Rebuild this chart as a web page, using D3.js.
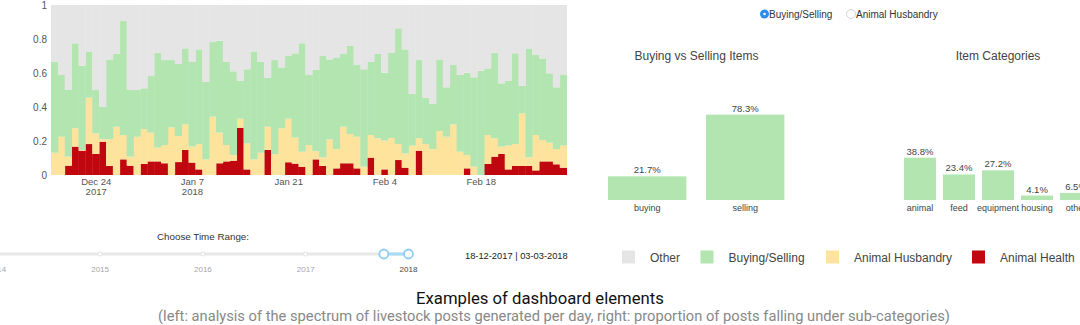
<!DOCTYPE html>
<html><head><meta charset="utf-8">
<script src="https://cdn.jsdelivr.net/npm/d3@7"></script>
<style>html,body{margin:0;padding:0;background:#fff;}svg{display:block;}</style>
</head><body>
<svg id="c" width="1080" height="325"></svg>
<script>
// ---- data ----
const startDay = "2017-12-18";
const endDay = "2018-03-03"; // exclusive
const animalHealth = [0,0,0.055,0.167,0.143,0.182,0.124,0.196,0.053,0,0.092,0.055,0,0.065,0.080,0.080,0.069,0,0.076,0.147,0.073,0.033,0,0,0.069,0.080,0.084,0.278,0.033,0,0,0.147,0,0,0.075,0.067,0.047,0,0.092,0.053,0,0.039,0.069,0.069,0.039,0,0.102,0,0.033,0,0.088,0.043,0,0.143,0,0,0,0,0,0,0.039,0,0,0.065,0.108,0.124,0.033,0.053,0.053,0.053,0.027,0.080,0.080,0.063,0.043];
const animalHusbandry = [0.131,0.225,0.053,0.108,0.004,0.273,0.121,0.014,0.157,0.284,0.143,0.053,0.225,0.205,0.169,0.081,0.107,0.280,0.153,0.151,0.094,0.149,0.092,0.343,0.180,0.096,0.034,0.053,0.153,0.092,0.131,0.137,0.122,0.275,0.256,0.153,0.090,0.176,0.048,0.051,0.210,0.114,0.215,0.172,0.186,0.049,0.133,0.216,0.169,0.218,0.094,0.084,0.173,0.073,0.182,0.153,0.259,0.225,0.298,0.137,0.079,0.049,0,0.170,0.108,0.043,0.140,0.129,0.310,0.051,0.208,0.126,0.110,0.090,0.130];
const buyingSelling = [0.536,0.363,0.392,0.500,0.496,0.272,0.255,0.190,0.470,0.428,0.671,0.392,0.275,0.240,0.333,0.559,0.500,0.396,0.424,0.447,0.498,0.557,0.455,0.439,0.541,0.489,0.492,0.224,0.436,0.635,0.534,0.289,0.554,0.358,0.369,0.496,0.638,0.412,0.478,0.596,0.470,0.539,0.428,0.518,0.422,0.573,0.432,0.496,0.400,0.502,0.681,0.612,0.303,0.460,0.273,0.265,0.421,0.291,0.349,0.451,0.484,0.526,0.614,0.392,0.504,0.372,0.380,0.534,0.161,0.641,0.471,0.480,0.408,0.363,0.415];
const other = [0.333,0.412,0.500,0.225,0.357,0.273,0.500,0.600,0.320,0.288,0.094,0.500,0.500,0.490,0.418,0.280,0.324,0.324,0.347,0.255,0.335,0.261,0.453,0.218,0.210,0.335,0.390,0.445,0.378,0.273,0.335,0.427,0.324,0.367,0.300,0.284,0.225,0.412,0.382,0.300,0.320,0.308,0.288,0.241,0.353,0.378,0.333,0.288,0.398,0.280,0.137,0.261,0.524,0.324,0.545,0.582,0.320,0.484,0.353,0.412,0.398,0.425,0.386,0.373,0.280,0.461,0.447,0.284,0.476,0.255,0.294,0.314,0.402,0.484,0.412];
const yTicks = [0,0.2,0.4,0.6,0.8,1];
const yTickLabels = ["0","0.2","0.4","0.6","0.8","1"];
const xTickDates = ["2017-12-24","2018-01-07","2018-01-21","2018-02-04","2018-02-18"];
const xTickLabels = [["Dec 24","2017"],["Jan 7","2018"],["Jan 21"],["Feb 4"],["Feb 18"]];
const seriesNames = ["Other","Buying/Selling","Animal Husbandry","Animal Health"];
const seriesColors = {"Other":"#e5e5e5","Buying/Selling":"#b3e5b0","Animal Husbandry":"#fde39c","Animal Health":"#c0070f"};

const bsCats = ["buying","selling"];
const bsVals = [21.7,78.3];
const itemCats = ["animal","feed","equipment","housing","other"];
const itemVals = [38.8,23.4,27.2,4.1,6.5];

const sliderYears = [2014,2015,2016,2017,2018];
const rangeText = "18-12-2017 | 03-03-2018";

// ---- build ----
const svg = d3.select("#c");
const parse = d3.utcParse("%Y-%m-%d");
const days = d3.utcDay.range(parse(startDay), parse(endDay));
const rows = days.map((d,i)=>({date:d,
  "Animal Health":animalHealth[i],"Animal Husbandry":animalHusbandry[i],
  "Buying/Selling":buyingSelling[i],"Other":other[i]}));
const keys = ["Animal Health","Animal Husbandry","Buying/Selling","Other"];
const stack = d3.stack().keys(keys)(rows);

const x = d3.scaleUtc().domain([d3.utcHour.offset(days[0],-12), d3.utcHour.offset(days[days.length-1],12)]).range([51,566.6]);
const y = d3.scaleLinear().domain([0,1]).range([175,5]);
const dayW = x(d3.utcDay.offset(days[0],1)) - x(days[0]);

const g = svg.append("g");
g.selectAll("g.s").data(stack).join("g").attr("fill",d=>seriesColors[d.key])
 .selectAll("rect").data(d=>d).join("rect")
 .attr("x",d=>x(d.data.date)-dayW/2).attr("width",dayW+0.4)
 .attr("y",d=>y(d[1])).attr("height",d=>Math.max(0,y(d[0])-y(d[1])));

// y axis
const yAxis = d3.axisLeft(y).tickValues(yTicks).tickFormat((d,i)=>yTickLabels[i]).tickSize(0).tickPadding(2);
const ya = svg.append("g").attr("transform","translate(49,0)").call(yAxis);
ya.select(".domain").remove();
ya.selectAll("text").attr("font-family","Liberation Sans, Arial, sans-serif").attr("font-size",10).attr("fill","#555");

// x axis
const xTicks = xTickDates.map(parse);
const xAxis = d3.axisBottom(x).tickValues(xTicks).tickSize(0).tickFormat("");
const xa = svg.append("g").attr("transform","translate(0,175)").call(xAxis);
xa.select(".domain").remove();
xa.selectAll(".tick").each(function(d,i){
  const t = d3.select(this).append("text").attr("fill","#555")
    .attr("font-family","Liberation Sans, Arial, sans-serif").attr("font-size",9.5).attr("text-anchor","middle");
  xTickLabels[i].forEach((s,j)=>t.append("tspan").attr("x",0).attr("y",10+j*10).text(s));
});

// slider
const sx = d3.scaleLinear().domain([2014,2018]).range([-2.7,408.5]);
const sl = svg.append("g");
sl.append("text").attr("x",203).attr("y",240).attr("text-anchor","middle")
  .attr("font-family","Liberation Sans, Arial, sans-serif").attr("font-size",9.8).attr("fill","#333").text("Choose Time Range:");
sl.append("line").attr("x1",0).attr("x2",sx(2018)).attr("y1",254).attr("y2",254)
  .attr("stroke","#e8e8e8").attr("stroke-width",3).attr("stroke-linecap","round");
const h1 = 2017.76, h2 = 2018;
sl.append("line").attr("x1",sx(h1)).attr("x2",sx(h2)).attr("y1",254).attr("y2",254)
  .attr("stroke","#a9daf6").attr("stroke-width",3);
sl.selectAll("circle.dot").data(sliderYears.slice(1,4)).join("circle").attr("class","dot")
  .attr("cx",d=>sx(d)).attr("cy",254).attr("r",2).attr("fill","#fff").attr("stroke","#e2e2e2").attr("stroke-width",1);
sl.selectAll("text.yr").data(sliderYears).join("text").attr("class","yr")
  .attr("x",d=>sx(d)).attr("y",272).attr("text-anchor","middle")
  .attr("font-family","Liberation Sans, Arial, sans-serif").attr("font-size",8)
  .attr("fill",d=>d===2018?"#444":"#a5a5a5").text(d=>d);
sl.selectAll("circle.h").data([h1,h2]).join("circle").attr("class","h")
  .attr("cx",d=>sx(d)).attr("cy",254).attr("r",4.5).attr("fill","#fff").attr("stroke","#8fcdf3").attr("stroke-width",1.8);
sl.append("text").attr("x",465).attr("y",258.5)
  .attr("font-family","Liberation Sans, Arial, sans-serif").attr("font-size",9.3).attr("fill","#222").text(rangeText);

// radio buttons
const rd = svg.append("g").attr("font-family","Liberation Sans, Arial, sans-serif").attr("font-size",10).attr("fill","#333");
rd.append("circle").attr("cx",764.5).attr("cy",14).attr("r",4.5).attr("fill","#2d8cf0");
rd.append("circle").attr("cx",764.5).attr("cy",14).attr("r",1.3).attr("fill","#fff");
rd.append("text").attr("x",769).attr("y",17.5).text("Buying/Selling");
rd.append("circle").attr("cx",851).attr("cy",14).attr("r",4.5).attr("fill","#fff").attr("stroke","#ccc").attr("stroke-width",0.8);
rd.append("text").attr("x",856).attr("y",17.5).text("Animal Husbandry");

// small bar charts
const yb = d3.scaleLinear().domain([0,100]).range([200,91]);
function smallBars(cats, vals, x0, x1, pad, title, titleX){
  const bx = d3.scaleBand().domain(cats).range([x0,x1]).paddingInner(pad).paddingOuter(0.1);
  const gg = svg.append("g");
  gg.append("text").attr("x",titleX).attr("y",60).attr("text-anchor","middle")
    .attr("font-family","Liberation Sans, Arial, sans-serif").attr("font-size",12).attr("fill","#444").text(title);
  const data = cats.map((c,i)=>({c,v:vals[i]}));
  gg.selectAll("rect").data(data).join("rect")
    .attr("x",d=>bx(d.c)).attr("width",bx.bandwidth())
    .attr("y",d=>yb(d.v)).attr("height",d=>yb(0)-yb(d.v)).attr("fill","#b3e5b0");
  gg.selectAll("text.v").data(data).join("text").attr("class","v")
    .attr("x",d=>bx(d.c)+bx.bandwidth()/2).attr("y",d=>yb(d.v)-3).attr("text-anchor","middle")
    .attr("font-family","Liberation Sans, Arial, sans-serif").attr("font-size",9.5).attr("fill","#444")
    .text(d=>d3.format(".1f")(d.v)+"%");
  const ax = d3.axisBottom(bx).tickSize(0).tickPadding(5);
  const a = gg.append("g").attr("transform","translate(0,200)").call(ax);
  a.select(".domain").remove();
  a.selectAll("text").attr("font-family","Liberation Sans, Arial, sans-serif").attr("font-size",9).attr("fill","#444");
}
smallBars(bsCats, bsVals, 598.2, 794.2, 0.2, "Buying vs Selling Items", 696.5);
smallBars(itemCats, itemVals, 900.1, 1095.9, 0.18, "Item Categories", 998);

// legend
const lg = svg.append("g").attr("font-family","Liberation Sans, Arial, sans-serif").attr("font-size",12).attr("fill","#444");
const lgX = [622,700.5,826,972];
seriesNames.forEach((n,i)=>{
  lg.append("rect").attr("x",lgX[i]).attr("y",250.5).attr("width",13).attr("height",13).attr("fill",seriesColors[n]);
  lg.append("text").attr("x",lgX[i]+28).attr("y",261.5).text(n);
});

// caption
svg.append("text").attr("x",540).attr("y",304).attr("text-anchor","middle")
  .attr("font-family","Roboto, sans-serif").attr("font-size",16.7).attr("fill","#111").text("Examples of dashboard elements");
svg.append("text").attr("x",554).attr("y",321).attr("text-anchor","middle")
  .attr("font-family","Roboto, sans-serif").attr("font-size",14.7).attr("fill","#888")
  .text("(left: analysis of the spectrum of livestock posts generated per day, right: proportion of posts falling under sub-categories)");
</script>
</body></html>
